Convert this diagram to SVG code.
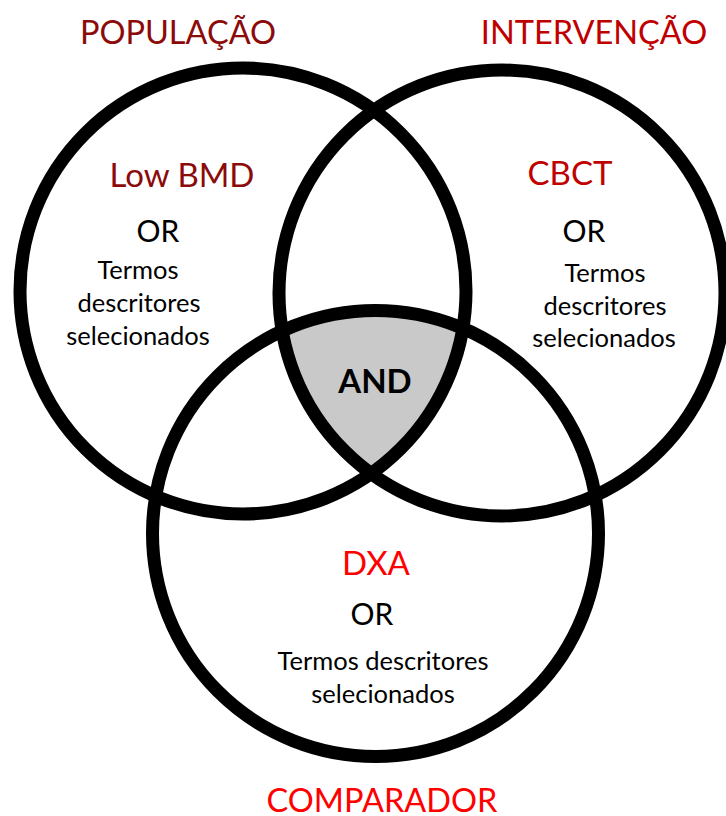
<svg xmlns="http://www.w3.org/2000/svg" width="726" height="816" viewBox="0 0 726 816">
<style>
  .ring { fill: none; stroke: #000; stroke-width: 13; }
  text { font-family: Lato, "Open Sans", "Liberation Sans", sans-serif; text-anchor: middle; }
  .head { font-size: 32.5px; }
  .key { font-size: 33px; }
  .or { font-size: 30px; fill: #000; }
  .desc { font-size: 25.5px; fill: #000; }
  .and { font-size: 33px; font-weight: bold; fill: #000; }
  .dark { fill: #8B0A0A; }
  .mid { fill: #C00000; }
  .bright { fill: #FF0000; }
</style>
<defs>
  <clipPath id="clipA"><circle cx="243" cy="291" r="223"/></clipPath>
  <clipPath id="clipB"><circle cx="502" cy="293" r="223"/></clipPath>
</defs>
<rect width="726" height="816" fill="#fff"/>
<g id="intersection" clip-path="url(#clipA)">
  <g clip-path="url(#clipB)">
    <circle cx="375.5" cy="533.5" r="223" fill="#C9C9C9"/>
  </g>
</g>
<g id="populacao">
  <circle class="ring" cx="243" cy="291" r="223"/>
  <text class="head dark" x="178" y="44">POPULAÇÃO</text>
  <text class="key dark" x="182" y="187">Low BMD</text>
  <text class="or" x="158" y="242">OR</text>
  <text class="desc" x="138" y="279">Termos</text>
  <text class="desc" x="139" y="312">descritores</text>
  <text class="desc" x="138" y="345">selecionados</text>
</g>
<g id="intervencao">
  <circle class="ring" cx="502" cy="293" r="223"/>
  <text class="head mid" x="594" y="44">INTERVENÇÃO</text>
  <text class="key mid" x="570" y="185">CBCT</text>
  <text class="or" x="584" y="242">OR</text>
  <text class="desc" x="605" y="282">Termos</text>
  <text class="desc" x="605" y="315">descritores</text>
  <text class="desc" x="604" y="347">selecionados</text>
</g>
<g id="comparador">
  <circle class="ring" cx="375.5" cy="533.5" r="223"/>
  <text class="key bright" x="376" y="575">DXA</text>
  <text class="or" x="372" y="625">OR</text>
  <text class="desc" x="383" y="670">Termos descritores</text>
  <text class="desc" x="383" y="703">selecionados</text>
  <text class="head bright" x="382" y="812">COMPARADOR</text>
</g>
<g id="and-label">
  <text class="and" x="375" y="393">AND</text>
</g>
</svg>
